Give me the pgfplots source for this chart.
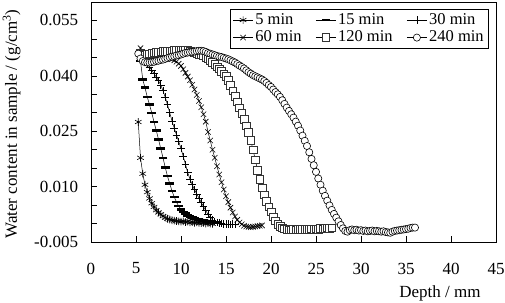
\documentclass[border=0pt]{standalone}
\usepackage{pgfplots}
\pgfplotsset{compat=1.18}
\usepackage{fontspec}
\setmainfont{Liberation Serif}

\begin{document}
\fontsize{17}{20}\selectfont
\begin{tikzpicture}[x=1pt,y=1pt]
\begin{axis}[
  at={(0,0)}, anchor=south west,
  scale only axis,
  width=405pt, height=240pt,
  xmin=0, xmax=45, ymin=-0.005, ymax=0.06,
  xtick={0,5,...,45},
  ytick={-0.005,0.01,0.025,0.04,0.055},
  minor ytick={0,0.005,0.015,0.02,0.03,0.035,0.045,0.05},
  scaled y ticks=false,
  tick align=inside,
  xtick pos=bottom, ytick pos=left,
  major tick length=6pt, minor tick length=6pt,
  tick style={black, line width=0.6pt},
  axis line style={black, line width=0.8pt},
  /pgf/number format/assume math mode=true,
  yticklabel style={/pgf/number format/fixed, /pgf/number format/fixed zerofill,
    /pgf/number format/precision=3, xshift=-7pt},
  xticklabel style={yshift=-15pt},
  every axis plot/.append style={black, line width=0.5pt},
  legend columns=3,
  legend cell align=left,
  legend style={at={(0.9827,0.9708)}, anchor=north east, draw=black, line width=0.6pt,
    font=\fontsize{16.5}{18}\selectfont, inner xsep=3pt, inner ysep=2pt,
    /tikz/every even column/.append style={column sep=12pt}},
  legend image code/.code={\draw[mark repeat=2, mark phase=2]
    plot coordinates {(0pt,0pt) (10pt,0pt) (20pt,0pt)};},
]
% 5 min
\addplot[mark=asterisk, mark size=3.8pt, mark options={line width=0.6pt}] coordinates {
(5.25,0.0275) (5.5,0.0178) (5.75,0.0135) (6.0,0.0105) (6.25,0.0085) (6.5,0.0068)
(6.75,0.0055) (7.0,0.0045) (7.25,0.0036) (7.5,0.0030) (7.75,0.0025) (8.0,0.0020)
(8.25,0.0016) (8.5,0.0013) (8.75,0.0011) (9.0,0.0009) (9.25,0.0008) (9.5,0.0007)
(9.75,0.0006) (10.0,0.0005) (10.25,0.0006) (10.5,0.0004) (10.75,0.0005) (11.0,0.0003)
(11.25,0.0004) (11.5,0.0002) (11.75,0.0003) (12.0,0.0002) (12.25,0.0001) (12.5,0.0002)
(12.75,0.0000) (13.0,0.0001) (13.25,0.0000) (13.5,-0.0001)
};
\addlegendentry{5 min}
% 15 min
\addplot[mark=-, mark size=4.3pt, mark options={line width=2.4pt}] coordinates {
(5.5,0.0440) (5.75,0.0390) (6.0,0.0368) (6.25,0.0343) (6.5,0.0322) (6.75,0.0300)
(7.0,0.0275) (7.25,0.0252) (7.5,0.0228) (7.75,0.0203) (8.0,0.0178) (8.25,0.0152)
(8.5,0.0128) (8.75,0.0108) (9.0,0.0088) (9.25,0.0072) (9.5,0.0058) (9.75,0.0047)
(10.0,0.0038) (10.25,0.0032) (10.5,0.0027) (10.75,0.0022) (11.0,0.0019) (11.25,0.0016)
(11.5,0.0014) (11.75,0.0012) (12.0,0.0011) (12.25,0.0009) (12.5,0.0008) (12.75,0.0007)
(13.0,0.0006) (13.25,0.0005) (13.5,0.0004) (13.75,0.0004) (14.0,0.0003)
};
\addlegendentry{15 min}
% 30 min
\addplot[mark=+, mark size=3.8pt, mark options={line width=0.6pt}] coordinates {
(5.5,0.0460) (5.75,0.0448) (6.0,0.0440) (6.25,0.0432) (6.5,0.0424) (6.75,0.0415)
(7.0,0.0406) (7.25,0.0397) (7.5,0.0387) (7.75,0.0375) (8.0,0.0360) (8.25,0.0342)
(8.5,0.0322) (8.75,0.0300) (9.0,0.0278) (9.25,0.0258) (9.5,0.0240) (9.75,0.0222)
(10.0,0.0203) (10.25,0.0182) (10.5,0.0160) (10.75,0.0138) (11.0,0.0120) (11.25,0.0105)
(11.5,0.0092) (11.75,0.0080) (12.0,0.0069) (12.25,0.0057) (12.5,0.0046) (12.75,0.0035)
(13.0,0.0025) (13.25,0.0016) (13.5,0.0010) (13.75,0.0006) (14.0,0.0003) (14.25,0.0001)
(14.5,0.0000) (14.75,-0.0001) (15.0,-0.0002) (15.25,-0.0002) (15.5,-0.0003) (15.75,-0.0002)
(16.0,-0.0003)
};
\addlegendentry{30 min}
% 60 min
\addplot[mark=x, mark size=3.8pt, mark options={line width=0.6pt}] coordinates {
(5.5,0.0475) (5.75,0.0458) (6.0,0.0452) (6.25,0.0450) (6.5,0.0449) (6.75,0.0448)
(7.0,0.0448) (7.25,0.0449) (7.5,0.0450) (7.75,0.0450) (8.0,0.0451) (8.25,0.0450)
(8.5,0.0449) (8.75,0.0447) (9.0,0.0445) (9.25,0.0442) (9.5,0.0438) (9.75,0.0433)
(10.0,0.0427) (10.25,0.0418) (10.5,0.0408) (10.75,0.0398) (11.0,0.0388) (11.25,0.0376)
(11.5,0.0363) (11.75,0.0348) (12.0,0.0332) (12.25,0.0315) (12.5,0.0296) (12.75,0.0276)
(13.0,0.0248) (13.25,0.0225) (13.5,0.0200) (13.75,0.0178) (14.0,0.0155) (14.25,0.0133)
(14.5,0.0112) (14.75,0.0092) (15.0,0.0074) (15.25,0.0058) (15.5,0.0043) (15.75,0.0030)
(16.0,0.0019) (16.25,0.0010) (16.5,0.0003) (16.75,-0.0002) (17.0,-0.0006) (17.25,-0.0008)
(17.5,-0.0009) (17.75,-0.0010) (18.0,-0.0009) (18.25,-0.0008) (18.5,-0.0007) (18.75,-0.0006)
(19.0,-0.0005)
};
\addlegendentry{60 min}
% 120 min
\addplot[mark=square*, mark size=3.8pt, mark options={fill=white, draw=black!80, line width=0.6pt}] coordinates {
(5.5,0.0462) (5.75,0.0458) (6.0,0.0457) (6.25,0.0458) (6.5,0.0460) (6.75,0.0461)
(7.0,0.0462) (7.25,0.0463) (7.5,0.0463) (7.75,0.0465) (8.0,0.0466) (8.25,0.0466)
(8.5,0.0467) (8.75,0.0468) (9.0,0.0468) (9.25,0.0469) (9.5,0.0470) (9.75,0.0470)
(10.0,0.0471) (10.25,0.0471) (10.5,0.0470) (10.75,0.0469) (11.0,0.0467) (11.25,0.0465)
(11.5,0.0463) (11.75,0.0461) (12.0,0.0459) (12.25,0.0457) (12.5,0.0454) (12.75,0.0450)
(13.0,0.0446) (13.25,0.0442) (13.5,0.0437) (13.75,0.0431) (14.0,0.0425) (14.25,0.0419)
(14.5,0.0413) (14.75,0.0406) (15.0,0.0398) (15.25,0.0388) (15.5,0.0375) (15.75,0.0360)
(16.0,0.0345) (16.25,0.0330) (16.5,0.0314) (16.75,0.0298) (17.0,0.0282) (17.25,0.0265)
(17.5,0.0247) (17.75,0.0225) (18.0,0.0200) (18.25,0.0173) (18.5,0.0145) (18.75,0.0120)
(19.0,0.0097) (19.25,0.0078) (19.5,0.0060) (19.75,0.0045) (20.0,0.0032) (20.25,0.0018)
(20.5,0.0007) (20.75,-0.0002) (21.0,-0.0008) (21.25,-0.0012) (21.5,-0.0014) (21.75,-0.0016)
(22.0,-0.0017) (22.25,-0.0017) (22.5,-0.0016) (22.75,-0.0017) (23.0,-0.0016) (23.25,-0.0015)
(23.5,-0.0016) (23.75,-0.0015) (24.0,-0.0016) (24.25,-0.0015) (24.5,-0.0014) (24.75,-0.0015)
(25.0,-0.0014) (25.25,-0.0015) (25.5,-0.0013) (25.75,-0.0014) (26.0,-0.0013) (26.25,-0.0012)
(26.5,-0.0013) (26.75,-0.0012)
};
\addlegendentry{120 min}
% 240 min
\addplot[mark=*, mark size=3.6pt, mark options={fill=white, draw=black, line width=0.6pt}] coordinates {
(5.25,0.0460) (5.5,0.0447) (5.75,0.0440) (6.0,0.0437) (6.25,0.0436) (6.5,0.0436)
(6.75,0.0437) (7.0,0.0438) (7.25,0.0440) (7.5,0.0441) (7.75,0.0443) (8.0,0.0444)
(8.25,0.0446) (8.5,0.0448) (8.75,0.0450) (9.0,0.0452) (9.25,0.0453) (9.5,0.0455)
(9.75,0.0456) (10.0,0.0458) (10.25,0.0460) (10.5,0.0462) (10.75,0.0463) (11.0,0.0464)
(11.25,0.0465) (11.5,0.0466) (11.75,0.0467) (12.0,0.0468) (12.25,0.0468) (12.5,0.0467)
(12.75,0.0465) (13.0,0.0462) (13.25,0.0460) (13.5,0.0458) (13.75,0.0456) (14.0,0.0454)
(14.25,0.0452) (14.5,0.0451) (14.75,0.0449) (15.0,0.0447) (15.25,0.0445) (15.5,0.0442)
(15.75,0.0439) (16.0,0.0436) (16.25,0.0432) (16.5,0.0428) (16.75,0.0424) (17.0,0.0420)
(17.25,0.0415) (17.5,0.0410) (17.75,0.0406) (18.0,0.0402) (18.25,0.0399) (18.5,0.0396)
(18.75,0.0393) (19.0,0.0390) (19.25,0.0386) (19.5,0.0381) (19.75,0.0375) (20.0,0.0370)
(20.25,0.0363) (20.5,0.0356) (20.75,0.0350) (21.0,0.0343) (21.25,0.0334) (21.5,0.0324)
(21.75,0.0314) (22.0,0.0305) (22.25,0.0296) (22.5,0.0287) (22.75,0.0276) (23.0,0.0265)
(23.25,0.0252) (23.5,0.0238) (23.75,0.0224) (24.0,0.0210) (24.25,0.0193) (24.5,0.0175)
(24.75,0.0158) (25.0,0.0140) (25.25,0.0122) (25.5,0.0105) (25.75,0.0089) (26.0,0.0075)
(26.25,0.0062) (26.5,0.0049) (26.75,0.0037) (27.0,0.0026) (27.25,0.0016) (27.5,0.0006)
(27.75,-0.0004) (28.0,-0.0013) (28.25,-0.0020) (28.5,-0.0022) (28.75,-0.0018) (29.0,-0.0016)
(29.25,-0.0018) (29.5,-0.0017) (29.75,-0.0019) (30.0,-0.0018) (30.25,-0.0020) (30.5,-0.0019)
(30.75,-0.0021) (31.0,-0.0020) (31.25,-0.0019) (31.5,-0.0021) (31.75,-0.0020) (32.0,-0.0021)
(32.25,-0.0022) (32.5,-0.0021) (32.75,-0.0023) (33.0,-0.0024) (33.25,-0.0025) (33.5,-0.0022)
(33.75,-0.0020) (34.0,-0.0019) (34.25,-0.0018) (34.5,-0.0017) (34.75,-0.0016) (35.0,-0.0015)
(35.25,-0.0014) (35.5,-0.0012) (35.75,-0.0011) (36.0,-0.0011)
};
\addlegendentry{240 min}
\end{axis}
% axis titles
\node[rotate=90, anchor=base] at (-74,118) {Water content in sample / (g/cm\textsuperscript{3})};
\node[anchor=base] at (349,-55) {Depth / mm};
\pgfresetboundingbox
\path (-91,-60) rectangle (414,242);
\end{tikzpicture}
\end{document}
